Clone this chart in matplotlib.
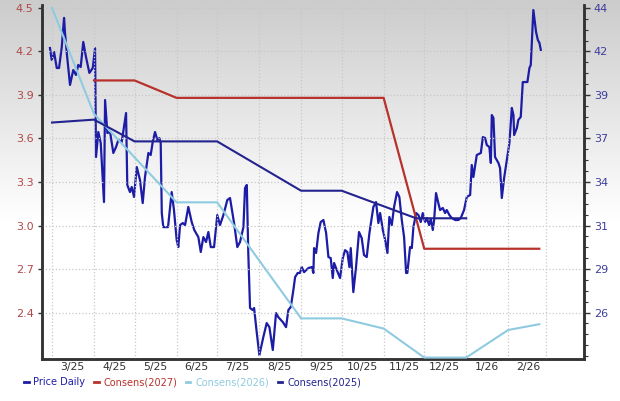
import numpy as np
import matplotlib
matplotlib.use("Agg")
import matplotlib.pyplot as plt
import matplotlib.dates as mdates
from matplotlib.ticker import FixedLocator, AutoMinorLocator, FuncFormatter, FormatStrFormatter
from matplotlib.lines import Line2D
from datetime import datetime, timedelta

# daily price: days since 2025-03-01 and price ($)
price_days = [-1.5, -0.2, 1.5, 3.5, 5.2, 7.2, 8.9, 9.6, 10.9, 13.3, 15.7, 17.7, 19.4, 21.2, 23.1, 25.1,
              27.6, 30.1, 31.8, 32.5, 34.2, 36.0, 38.4, 39.2, 40.9, 42.9, 45.3, 47.3, 49.0, 51.5, 54.7,
              55.6, 57.6, 58.9, 60.6, 62.6, 65.0, 67.0, 68.7, 71.2, 72.9, 74.4, 76.1, 77.8, 79.3, 80.3,
              81.1, 82.2, 85.7, 88.4, 90.1, 92.1, 93.3, 94.6, 96.6, 98.3, 100.7, 103.2, 105.1, 108.1,
              109.9, 111.8, 113.8, 115.5, 117.3, 119.7, 122.1, 124.1, 126.6, 129.5, 131.5, 134.5, 136.9,
              138.9, 141.4, 142.6, 143.9, 145.0, 146.3, 148.3, 149.3, 151.3, 153.2, 156.1, 158.6, 160.6,
              163.1, 165.5, 167.2, 170.5, 172.9, 174.6, 176.4, 178.3, 179.6, 181.5, 183.2, 184.5, 186.2,
              189.4, 191.9, 193.1, 193.6, 195.1, 196.8, 198.5, 200.5, 202.5, 204.2, 205.9, 207.4, 208.4,
              210.4, 212.8, 214.8, 216.5, 218.2, 219.7, 220.7, 222.6, 224.6, 226.8, 228.8, 230.5, 232.5,
              234.5, 236.2, 237.4, 239.4, 241.1, 242.4, 244.4, 246.1, 247.8, 249.2, 251.0, 252.7, 254.9,
              256.6, 258.4, 260.1, 261.6, 262.5, 264.5, 265.8, 267.0, 269.0, 270.7, 272.4, 273.9, 275.6,
              276.9, 278.6, 279.8, 281.3, 282.3, 283.7, 285.4, 286.7, 288.7, 290.4, 291.6, 293.6, 295.3,
              297.8, 300.2, 302.0, 304.4, 306.4, 308.9, 310.1, 311.3, 313.8, 316.8, 318.3, 320.0, 321.2,
              323.1, 324.2, 324.9, 326.1, 327.3, 329.8, 331.0, 332.3, 334.0, 336.0, 337.9, 339.7, 340.9,
              341.4, 343.4, 344.5, 346.3, 347.8, 351.2, 352.7, 353.7, 355.6, 357.6, 358.9, 360.1, 361.1]
price = [41.93, 41.22, 41.70, 40.75, 40.75, 41.99, 43.71, 42.82, 41.64, 39.75, 40.63, 40.34, 40.93, 40.81,
         42.29, 41.40, 40.46, 40.75, 41.93, 35.49, 36.97, 36.32, 32.83, 38.86, 36.91, 36.97, 35.73, 36.08,
         36.50, 36.38, 38.09, 33.84, 33.42, 33.72, 33.13, 34.90, 34.13, 32.77, 34.31, 35.73, 35.61, 36.38,
         36.97, 36.50, 36.61, 36.32, 32.18, 31.35, 31.35, 33.42, 32.36, 30.59, 30.17, 31.47, 31.59, 31.47,
         32.54, 31.65, 31.18, 30.76, 29.88, 30.76, 30.47, 31.06, 30.17, 30.17, 32.06, 31.47, 32.06, 32.95,
         33.07, 31.59, 30.17, 30.47, 31.35, 33.66, 33.84, 29.82, 26.57, 26.45, 26.57, 25.09, 23.79, 24.85,
         25.68, 25.44, 24.09, 26.27, 26.03, 25.74, 25.44, 26.45, 26.63, 27.63, 28.40, 28.64, 28.64, 28.99,
         28.69, 28.93, 28.99, 28.64, 30.11, 29.82, 31.00, 31.65, 31.77, 31.00, 29.58, 29.52, 28.34, 29.23,
         28.81, 28.34, 29.52, 29.99, 29.88, 28.99, 30.11, 27.51, 28.99, 31.06, 30.70, 29.70, 29.58, 31.00,
         31.89, 32.54, 32.83, 31.59, 32.18, 31.18, 30.59, 29.82, 31.95, 31.47, 32.54, 33.42, 33.13, 31.77,
         30.76, 28.64, 28.64, 30.17, 30.11, 31.35, 32.18, 32.06, 31.65, 32.18, 31.65, 31.89, 31.47, 31.83,
         31.18, 31.77, 33.36, 32.77, 32.36, 32.48, 32.18, 32.36, 32.06, 31.89, 31.77, 31.77, 31.89, 32.36,
         33.13, 33.25, 35.02, 34.31, 35.61, 35.73, 36.67, 36.61, 36.20, 36.08, 35.14, 37.97, 37.80, 35.49,
         35.14, 34.84, 33.07, 34.25, 35.31, 36.32, 38.39, 37.97, 36.79, 37.20, 37.68, 37.86, 39.92, 39.92,
         40.75, 40.93, 44.18, 42.88, 42.41, 42.23, 41.82]

# consensus EPS estimates
c2027_dates = ["2025-04-01", "2025-05-01", "2025-06-01", "2025-11-01", "2025-12-01", "2026-02-24"]
c2027 = [4.00, 4.00, 3.88, 3.88, 2.84, 2.84]
c2026_dates = ["2025-03-01", "2025-04-01", "2025-06-01", "2025-07-01", "2025-09-01", "2025-10-01",
               "2025-11-01", "2025-12-01", "2026-01-01", "2026-02-01", "2026-02-24"]
c2026 = [4.50, 3.77, 3.16, 3.16, 2.36, 2.36, 2.29, 2.09, 2.09, 2.28, 2.32]
c2025_dates = ["2025-03-01", "2025-04-01", "2025-05-01", "2025-07-01", "2025-09-01", "2025-10-01",
               "2025-11-25", "2026-01-01"]
c2025 = [3.71, 3.73, 3.58, 3.58, 3.24, 3.24, 3.05, 3.05]

eps_ticks = [2.4, 2.7, 3.0, 3.3, 3.6, 3.9, 4.2, 4.5]
month_labels = ["3/25", "4/25", "5/25", "6/25", "7/25", "8/25", "9/25", "10/25", "11/25", "12/25",
                "1/26", "2/26"]

PRICE_C = "#1c1ca6"
C27 = "#b8322c"
C26 = "#8fcbe0"
C25 = "#23238f"
EPS_LBL = "#b04848"
PRC_LBL = "#3d3d9c"

def eps_to_price(e):
    return 26.3 + (np.asarray(e) - 2.4) * (18.0 / 2.1)

fig = plt.figure(figsize=(6.2, 4.01), dpi=100)

# gradient background: gray at top fading to white
bg = fig.add_axes([0, 0, 1, 1], zorder=-10)
grad = np.linspace(0, 1, 256)
shade = np.clip(0.80 + 0.20 * (1 - grad) / 0.55, 0, 1)
bg.imshow(np.repeat(shade[:, None, None], 3, axis=2), aspect="auto",
          extent=[0, 1, 0, 1], origin="lower")
bg.axis("off")

ax = fig.add_axes([0.0677, 0.1047, 0.8742, 0.8828])
ax.set_facecolor("none")

start = datetime(2025, 3, 1)
px = mdates.date2num([start + timedelta(days=d) for d in price_days])
to_num = lambda ds: mdates.date2num([datetime.strptime(d, "%Y-%m-%d") for d in ds])

ylo, yhi = 2.08, 4.52
ax.set_ylim(ylo, yhi)
ax.set_xlim(mdates.date2num(datetime(2025, 2, 21, 14)), mdates.date2num(datetime(2026, 3, 29)))

ax.plot(to_num(c2026_dates), c2026, color=C26, lw=1.5, zorder=3)
ax.plot(to_num(c2027_dates), c2027, color=C27, lw=1.6, zorder=3)

ax2 = ax.twinx()
ax2.set_ylim(eps_to_price(ylo), eps_to_price(yhi))
ax2.plot(px, price, color=PRICE_C, lw=1.6, zorder=4)
ax2.patch.set_visible(False)
ax.plot(to_num(c2025_dates), c2025, color=C25, lw=1.5, zorder=5)
ax.set_zorder(ax2.get_zorder() + 1)
ax.patch.set_visible(False)

# x axis: month start gridlines, labels mid-month
mstarts = [datetime(2025 + (2 + i) // 12, (2 + i) % 12 + 1, 1) for i in range(13)]
mids = [s + timedelta(days=15) for s in mstarts[:-1]]
ax.xaxis.set_major_locator(FixedLocator(mdates.date2num(mstarts)))
ax.xaxis.set_major_formatter(FuncFormatter(lambda v, p: ""))
ax.xaxis.set_minor_locator(FixedLocator(mdates.date2num(mids)))
ax.xaxis.set_minor_formatter(FuncFormatter(lambda v, p: month_labels[p] if p < len(month_labels) else ""))
ax.tick_params(axis="x", which="both", length=0, labelsize=7.8, labelcolor="#333333", pad=2.5)

ax.set_yticks(eps_ticks)
ax.yaxis.set_major_formatter(FormatStrFormatter("%.1f"))
ax.tick_params(axis="y", which="major", length=3, width=1, labelsize=8, labelcolor=EPS_LBL,
               color="#333333", pad=3)

ax2.set_yticks(eps_to_price(eps_ticks))
ax2.yaxis.set_major_formatter(FormatStrFormatter("%.0f"))
ax2.yaxis.set_minor_locator(AutoMinorLocator(4))
ax2.tick_params(axis="y", which="major", length=4, width=1, labelsize=8, labelcolor=PRC_LBL,
                color="#333333", pad=3)
ax2.tick_params(axis="y", which="minor", length=3, width=0.8, color="#333333")

ax.grid(True, which="major", color="#c8c8c8", linestyle=":", linewidth=0.9)

for a in (ax, ax2):
    a.spines["top"].set_visible(False)
    for s in ("left", "right", "bottom"):
        a.spines[s].set_color("#333333")
        a.spines[s].set_linewidth(1.8)

handles = [Line2D([], [], color=PRICE_C, lw=2), Line2D([], [], color=C27, lw=2),
           Line2D([], [], color=C26, lw=2), Line2D([], [], color=C25, lw=2)]
labels = ["Price Daily", "Consens(2027)", "Consens(2026)", "Consens(2025)"]
leg = fig.legend(handles, labels, loc="lower left", bbox_to_anchor=(0.025, 0.012), ncol=4, frameon=False,
                 fontsize=7.0, handlelength=0.45, handletextpad=0.5, columnspacing=0.9)
for t, h in zip(leg.get_texts(), handles):
    t.set_color(h.get_color())

fig.savefig("out.png", dpi=100)
